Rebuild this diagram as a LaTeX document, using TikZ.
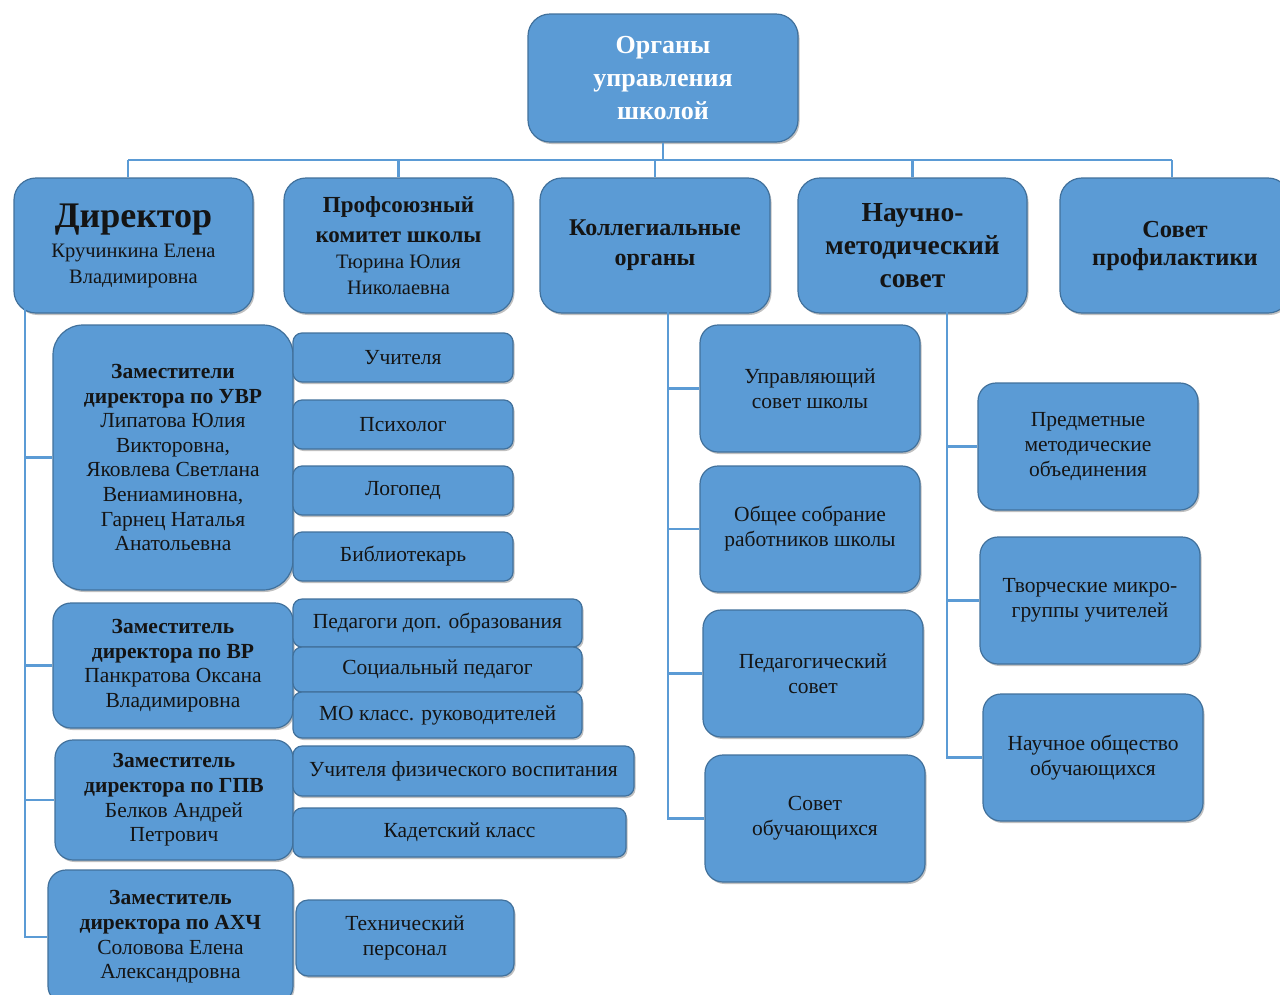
\documentclass[tikz,border=0pt]{standalone}
\usepackage{fontspec}
\setmainfont{Liberation Serif}
\usetikzlibrary{shadows}
\definecolor{boxfill}{HTML}{5B9BD5}
\definecolor{boxdraw}{HTML}{41719C}
\definecolor{linec}{HTML}{5B9BD5}
\definecolor{txt}{HTML}{141414}
\newcommand\mkbox[7]{\node[#2, minimum width={#5pt-#3pt}, minimum height={#6pt-#4pt}] (#1) at ({(#3+#5)/2},{(#4+#6)/2}) {#7};}
\newcommand\nm[1]{{\fontsize{20.5}{25}\selectfont\mdseries #1}}
\begin{document}
\begin{tikzpicture}[x=1pt,y=-1pt,
  basebox/.style={draw=boxdraw, line width=1.2pt, fill=boxfill, align=center, text=txt, inner sep=2pt,
    drop shadow={shadow xshift=1.5pt, shadow yshift=-2pt, opacity=0.35, fill=black!70}},
  bigbox/.style={basebox, rounded corners=22pt},
  midbox/.style={basebox, rounded corners=18pt},
  smallbox/.style={basebox, rounded corners=9pt, font=\fontsize{21.5}{24}\selectfont},
  subtext/.style={font=\fontsize{21.5}{25}\selectfont},
  deptext/.style={font=\fontsize{21.5}{24.6}\selectfont},
  conn/.style={draw=linec, line width=2.3pt}]
\fill[white] (0,0) rectangle (1280,994);
\useasboundingbox (0,0) rectangle (1280,994);

% top
\mkbox{top}{bigbox, text=white, font=\fontsize{26}{33}\selectfont\bfseries}{528}{14}{798}{142}{Органы\\управления\\школой}

\coordinate (busL) at (128,160);
\coordinate (busR) at (1172,160);
\coordinate (vl) at (25,300);
\coordinate (kv) at (668,300);
\coordinate (nv) at (947,300);

% first row
\mkbox{dir}{bigbox, font=\fontsize{20.5}{26}\selectfont}{14}{178}{253}{313}{{\fontsize{36}{40}\selectfont\bfseries Директор}\\[4pt]Кручинкина Елена\\Владимировна}
\mkbox{prof}{bigbox, font=\fontsize{23}{29.5}\selectfont\bfseries}{284}{178}{513}{313}{Профсоюзный\\комитет школы\\[-3pt]\nm{Тюрина Юлия}\\[-4pt]\nm{Николаевна}}
\mkbox{kol}{bigbox, font=\fontsize{24}{30}\selectfont\bfseries}{540}{178}{770}{313}{Коллегиальные\\органы}
\mkbox{nms}{bigbox, font=\fontsize{27.5}{33}\selectfont\bfseries}{798}{178}{1027}{313}{Научно-\\методический\\совет}
\mkbox{sp}{bigbox, font=\fontsize{24.5}{28}\selectfont\bfseries}{1060}{178}{1290}{313}{Совет\\профилактики}

% bus
\draw[conn] (top.south) -- (top.south |- busL);
\draw[conn] (busL) -- (busR);
\draw[conn] (busL) -- (dir.north -| busL);
\draw[conn] (prof.north |- busL) -- (prof.north);
\draw[conn] (kol.north |- busL) -- (kol.north);
\draw[conn] (nms.north |- busL) -- (nms.north);
\draw[conn] (busR) -- (sp.north -| busR);

% left column
\mkbox{uvr}{bigbox, rounded corners=30pt, deptext}{53}{325}{293}{590}{\textbf{Заместители}\\\textbf{директора по УВР}\\Липатова Юлия\\Викторовна,\\Яковлева Светлана\\Вениаминовна,\\Гарнец Наталья\\Анатольевна}
\mkbox{vr}{midbox, deptext}{53}{603}{293}{728}{\textbf{Заместитель}\\\textbf{директора по ВР}\\Панкратова Оксана\\Владимировна}
\mkbox{gpv}{midbox, deptext}{55}{740}{293}{860}{\textbf{Заместитель}\\\textbf{директора по ГПВ}\\Белков Андрей\\Петрович}
\mkbox{ahch}{midbox, deptext}{48}{870}{293}{1004}{\textbf{Заместитель}\\\textbf{директора по АХЧ}\\Соловова Елена\\Александровна}

\draw[conn] (vl) -- (vl |- ahch.west) -- (ahch.west);
\draw[conn] (vl |- uvr.west) -- (uvr.west);
\draw[conn] (vl |- vr.west) -- (vr.west);
\draw[conn] (vl |- gpv.west) -- (gpv.west);
\draw[conn] (dir.south -| vl) -- (vl);

% sub boxes UVR
\mkbox{uch}{smallbox}{293}{333}{513}{382}{Учителя}
\mkbox{psy}{smallbox}{293}{400}{513}{449}{Психолог}
\mkbox{log}{smallbox}{293}{466}{513}{515}{Логопед}
\mkbox{bib}{smallbox}{293}{532}{513}{581}{Библиотекарь}
% VR
\mkbox{ped}{smallbox}{293}{599}{582}{647}{Педагоги доп. образования}
\mkbox{soc}{smallbox}{293}{647}{582}{692}{Социальный педагог}
\mkbox{mo}{smallbox}{293}{692}{582}{738}{МО класс. руководителей}
% GPV
\mkbox{fiz}{smallbox}{293}{746}{634}{796}{Учителя физического воспитания}
\mkbox{kad}{smallbox}{293}{808}{626}{857}{Кадетский класс}
% AHCh
\mkbox{teh}{smallbox, rounded corners=12pt, subtext}{296}{900}{514}{976}{Технический\\персонал}

% collegial bodies
\draw[conn] (kol.south -| kv) -- (kv);
\mkbox{us}{midbox, subtext}{700}{325}{920}{452}{Управляющий\\совет школы}
\mkbox{os}{midbox, subtext}{700}{466}{920}{592}{Общее собрание\\работников школы}
\mkbox{ps}{midbox, subtext}{703}{610}{923}{737}{Педагогический\\совет}
\mkbox{so}{midbox, subtext}{705}{755}{925}{882}{Совет\\обучающихся}
\draw[conn] (kv) -- (kv |- so.west) -- (so.west);
\draw[conn] (kv |- us.west) -- (us.west);
\draw[conn] (kv |- os.west) -- (os.west);
\draw[conn] (kv |- ps.west) -- (ps.west);

% scientific-methodical council
\draw[conn] (nms.south -| nv) -- (nv);
\mkbox{pmo}{midbox, subtext}{978}{383}{1198}{510}{Предметные\\методические\\объединения}
\mkbox{tmg}{midbox, subtext}{980}{537}{1200}{664}{Творческие микро-\\группы учителей}
\mkbox{noo}{midbox, subtext}{983}{694}{1203}{821}{Научное общество\\обучающихся}
\draw[conn] (nv) -- (nv |- noo.west) -- (noo.west);
\draw[conn] (nv |- pmo.west) -- (pmo.west);
\draw[conn] (nv |- tmg.west) -- (tmg.west);
\end{tikzpicture}
\end{document}
